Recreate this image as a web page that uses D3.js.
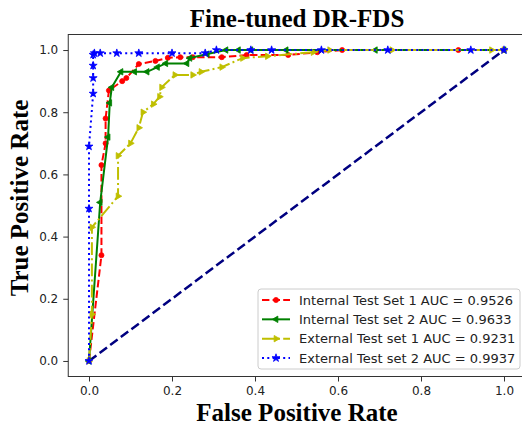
<!DOCTYPE html>
<html>
<head>
<meta charset="utf-8">
<script src="https://cdn.jsdelivr.net/npm/d3@7"></script>
<style>
  body { margin: 0; background: #fff; }
  svg { display: block; }
</style>
</head>
<body>
<div class="container"></div>
<script>
const WIDTH = 522;
const HEIGHT = 425;

// axes box (matplotlib style, 5% margin on both axes)
const LEFT = 68.25, RIGHT = 524.75, TOP = 34.5, BOTTOM = 376.5;

const xTicks = [0.0, 0.2, 0.4, 0.6, 0.8, 1.0];
const yTicks = [0.0, 0.2, 0.4, 0.6, 0.8, 1.0];

const seriesNames = [
    "Internal Test Set 1 AUC = 0.9526",
    "Internal Test set 2 AUC = 0.9633",
    "External Test set 1 AUC = 0.9231",
    "External Test set 2 AUC = 0.9937"
];

const internal1Fpr = [0, 0.03, 0.03, 0.04, 0.04, 0.048, 0.08, 0.09, 0.12, 0.16, 0.19, 0.22, 0.25, 0.32, 0.38, 0.48, 0.55, 0.61, 0.89, 1.0];
const internal1Tpr = [0, 0.34, 0.63, 0.70, 0.78, 0.87, 0.90, 0.91, 0.955, 0.965, 0.975, 0.977, 0.977, 0.977, 0.984, 0.984, 0.993, 1.0, 1.0, 1.0];

const internal2Fpr = [0, 0.027, 0.046, 0.05, 0.055, 0.077, 0.11, 0.14, 0.165, 0.185, 0.236, 0.243, 0.285, 0.33, 0.36, 0.39, 0.475, 0.69, 1.0];
const internal2Tpr = [0, 0.51, 0.72, 0.83, 0.88, 0.93, 0.93, 0.93, 0.945, 0.957, 0.957, 0.974, 0.987, 1.0, 1.0, 1.0, 1.0, 1.0, 1.0];

const external1Fpr = [0, 0.007, 0.007, 0.07, 0.07, 0.10, 0.12, 0.13, 0.155, 0.17, 0.175, 0.207, 0.25, 0.27, 0.32, 0.37, 0.43, 0.54, 0.58, 0.73, 0.97, 1.0];
const external1Tpr = [0, 0.15, 0.43, 0.53, 0.66, 0.70, 0.75, 0.80, 0.826, 0.85, 0.88, 0.92, 0.92, 0.93, 0.945, 0.974, 0.98, 0.993, 1.0, 1.0, 1.0, 1.0];

const external2Fpr = [0, 0, 0, 0.01, 0.01, 0.01, 0.01, 0.013, 0.027, 0.067, 0.12, 0.2, 0.28, 0.307, 0.39, 0.44, 0.56, 0.72, 0.92, 1.0];
const external2Tpr = [0, 0.49, 0.69, 0.86, 0.91, 0.95, 0.985, 0.99, 0.99, 0.99, 0.99, 0.99, 0.99, 1.0, 1.0, 1.0, 1.0, 1.0, 1.0, 1.0];

const diagonal = [0, 1];

var zip = function(xs, ys) {
    return xs.map(function(x, i) { return [x, ys[i]]; });
};

var series = [
    { name: seriesNames[0], pts: zip(internal1Fpr, internal1Tpr), color: "#ff0000", dash: "7.4,3.2", symbol: d3.symbolCircle, size: 20, rot: 0 },
    { name: seriesNames[1], pts: zip(internal2Fpr, internal2Tpr), color: "#008000", dash: null, symbol: d3.symbolTriangle, size: 18, rot: -90 },
    { name: seriesNames[2], pts: zip(external1Fpr, external1Tpr), color: "#bfbf00", dash: "12.8,3.2,2,3.2", symbol: d3.symbolTriangle, size: 18, rot: 90 },
    { name: seriesNames[3], pts: zip(external2Fpr, external2Tpr), color: "#0000ff", dash: "2,3.3", symbol: d3.symbolStar, size: 20, rot: 0 }
];

var translate = function(x, y) {
    return "translate(" + x + "," + y + ")";
};

var drawChart = function() {
    var svg = d3.select(".container").append("svg")
        .attr("width", WIDTH)
        .attr("height", HEIGHT);

    var xScale = d3.scaleLinear().domain([-0.05, 1.05]).range([LEFT, RIGHT]);
    var yScale = d3.scaleLinear().domain([-0.05, 1.05]).range([BOTTOM, TOP]);

    // title
    svg.append("text")
        .attr("x", 297).attr("y", 27)
        .attr("text-anchor", "middle")
        .style("font-family", "'Liberation Serif', 'Times New Roman', serif")
        .style("font-weight", "bold")
        .style("font-size", "25px")
        .text("Fine-tuned DR-FDS");

    var xAxis = d3.axisBottom(xScale).tickValues(xTicks).tickFormat(d3.format(".1f"))
        .tickSizeInner(5).tickSizeOuter(0).tickPadding(5);
    var yAxis = d3.axisLeft(yScale).tickValues(yTicks).tickFormat(d3.format(".1f"))
        .tickSizeInner(5).tickSizeOuter(0).tickPadding(5);

    var gx = svg.append("g").attr("transform", translate(0, BOTTOM)).call(xAxis);
    var gy = svg.append("g").attr("transform", translate(LEFT, 0)).call(yAxis);
    [gx, gy].forEach(function(g) {
        g.select(".domain").remove();
        g.selectAll("text")
            .style("font-family", "'DejaVu Sans', sans-serif")
            .style("font-size", "12px")
            .attr("fill", "#222");
        g.selectAll("line").attr("stroke", "#333");
    });

    // plot area
    svg.append("clipPath").attr("id", "clip")
        .append("rect").attr("x", LEFT).attr("y", TOP)
        .attr("width", RIGHT - LEFT).attr("height", BOTTOM - TOP);

    var plot = svg.append("g").attr("clip-path", "url(#clip)");

    var line = d3.line()
        .x(function(d) { return xScale(d[0]); })
        .y(function(d) { return yScale(d[1]); });

    plot.append("path")
        .attr("d", line(zip(diagonal, diagonal)))
        .attr("fill", "none")
        .attr("stroke", "#000080")
        .attr("stroke-width", 2.5)
        .attr("stroke-dasharray", "9.25,4");

    series.forEach(function(s) {
        var g = plot.append("g");
        g.append("path")
            .attr("d", line(s.pts))
            .attr("fill", "none")
            .attr("stroke", s.color)
            .attr("stroke-width", 2)
            .attr("stroke-dasharray", s.dash);
        g.selectAll(".pt")
            .data(s.pts)
            .enter().append("path")
            .attr("class", "pt")
            .attr("d", d3.symbol().type(s.symbol).size(s.size))
            .attr("transform", function(d) {
                return translate(xScale(d[0]), yScale(d[1])) + " rotate(" + s.rot + ")";
            })
            .attr("fill", s.color)
            .attr("stroke", s.color)
            .attr("stroke-width", 0.8);
    });

    // frame
    svg.append("rect")
        .attr("x", LEFT).attr("y", TOP)
        .attr("width", RIGHT - LEFT).attr("height", BOTTOM - TOP)
        .attr("fill", "none")
        .attr("stroke", "#333")
        .attr("stroke-width", 1);

    // axis labels
    svg.append("text")
        .attr("x", 297).attr("y", 421)
        .attr("text-anchor", "middle")
        .style("font-family", "'Liberation Serif', 'Times New Roman', serif")
        .style("font-weight", "bold")
        .style("font-size", "25px")
        .text("False Positive Rate");

    svg.append("text")
        .attr("transform", translate(28, 198) + " rotate(-90)")
        .attr("text-anchor", "middle")
        .style("font-family", "'Liberation Serif', 'Times New Roman', serif")
        .style("font-weight", "bold")
        .style("font-size", "25px")
        .text("True Positive Rate");

    // legend
    var legend = svg.append("g");
    legend.append("rect")
        .attr("x", 258).attr("y", 289)
        .attr("width", 262).attr("height", 80)
        .attr("rx", 3)
        .attr("fill", "#fff").attr("fill-opacity", 0.8)
        .attr("stroke", "#ccc").attr("stroke-width", 1);

    var rowY = d3.scaleLinear().domain([0, 3]).range([300, 358]);
    series.forEach(function(s, i) {
        var y = rowY(i);
        legend.append("line")
            .attr("x1", 262).attr("x2", 290)
            .attr("y1", y).attr("y2", y)
            .attr("stroke", s.color)
            .attr("stroke-width", 2)
            .attr("stroke-dasharray", s.dash);
        legend.append("path")
            .attr("d", d3.symbol().type(s.symbol).size(s.size))
            .attr("transform", translate(276, y) + " rotate(" + s.rot + ")")
            .attr("fill", s.color)
            .attr("stroke", s.color)
            .attr("stroke-width", 0.8);
        legend.append("text")
            .attr("x", 299).attr("y", y)
            .attr("dy", "0.35em")
            .style("font-family", "'DejaVu Sans', sans-serif")
            .style("font-size", "13px")
            .attr("fill", "#222")
            .text(s.name);
    });
};

window.onload = drawChart;
</script>
</body>
</html>
